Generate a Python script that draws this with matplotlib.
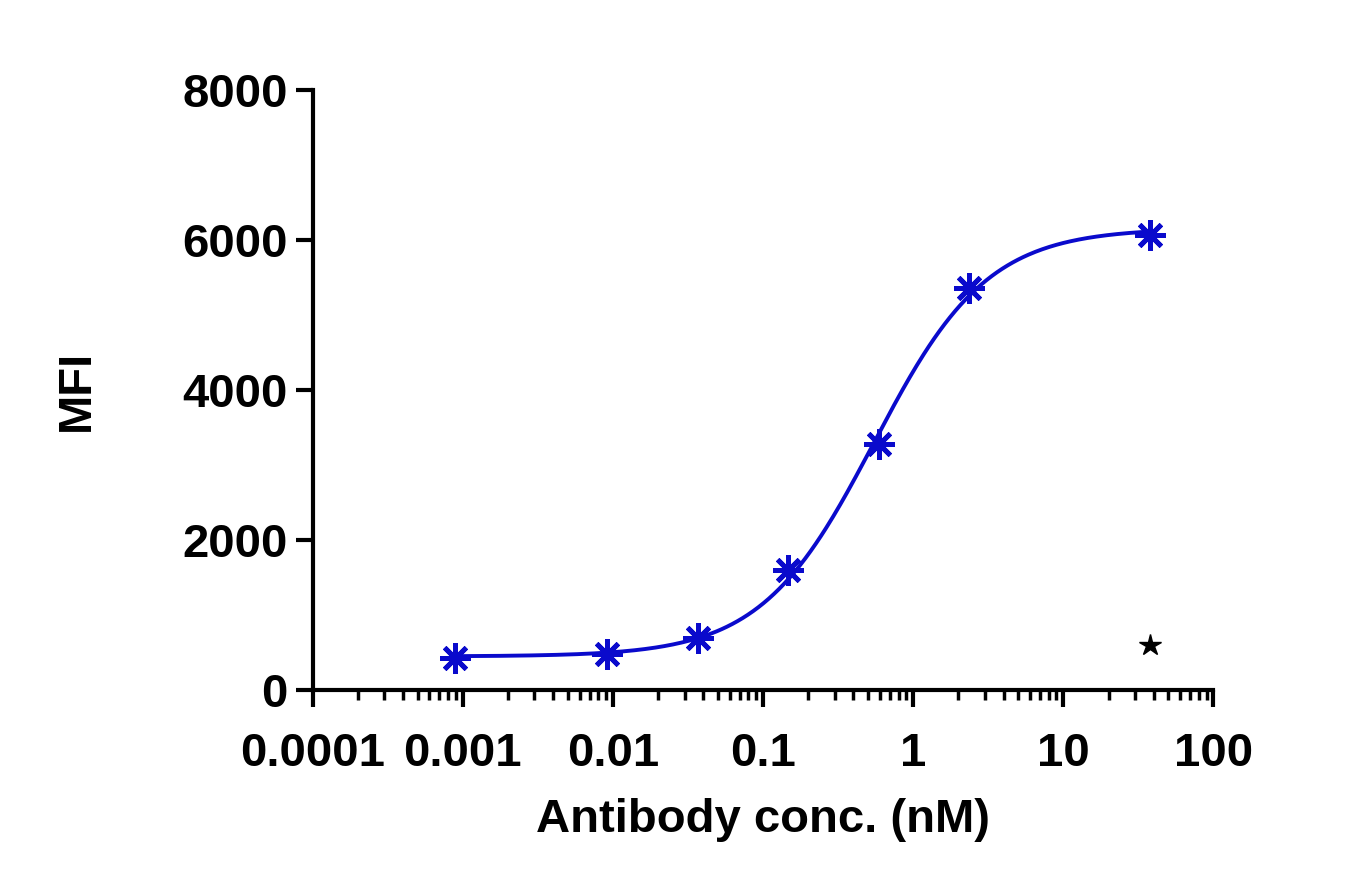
import numpy as np
import matplotlib.pyplot as plt
import matplotlib.ticker as ticker

plt.rcParams['font.family'] = ['Liberation Sans', 'DejaVu Sans']
plt.rcParams['font.weight'] = 'bold'

conc = [0.00089, 0.0091, 0.037, 0.147, 0.59, 2.34, 38.0]
mfi = [430, 480, 690, 1600, 3280, 5370, 6070]
blank_conc = [38.0]
blank_mfi = [600]

# 4PL fit by coarse grid search
lx = np.log10(conc)
y = np.array(mfi)
best = None
for bot in np.linspace(350, 550, 21):
    for top in np.linspace(5800, 6600, 41):
        for lec in np.linspace(-0.6, 0.0, 31):
            for h in np.linspace(0.8, 1.6, 33):
                f = bot + (top - bot) / (1 + 10 ** ((lec - lx) * h))
                e = np.sum((f - y) ** 2)
                if best is None or e < best[0]:
                    best = (e, bot, top, lec, h)
_, bot, top, lec, h = best
xs = np.logspace(np.log10(conc[0]), np.log10(conc[-1]), 400)
ys = bot + (top - bot) / (1 + 10 ** ((lec - np.log10(xs)) * h))

fig = plt.figure(figsize=(13.65, 8.94), dpi=100)
ax = fig.add_axes([0.229, 0.228, 0.66, 0.671])
blue = '#0A0ACC'
ax.plot(xs, ys, color=blue, lw=2.8)
ax.plot(conc, mfi, ls='none', marker=(8, 2, 0), ms=22, mew=3.5, color=blue)
ax.plot(blank_conc, blank_mfi, ls='none', marker='*', ms=16, color='black')

ax.set_xscale('log')
ax.set_xlim(1e-4, 100)
ax.set_ylim(0, 8000)
ax.set_yticks([0, 2000, 4000, 6000, 8000])
ax.xaxis.set_major_locator(ticker.FixedLocator([1e-4, 1e-3, 1e-2, 1e-1, 1, 10, 100]))
ax.xaxis.set_major_formatter(ticker.FixedFormatter(['0.0001', '0.001', '0.01', '0.1', '1', '10', '100']))
ax.xaxis.set_minor_locator(ticker.LogLocator(subs=np.arange(2, 10), numticks=20))
ax.xaxis.set_minor_formatter(ticker.NullFormatter())
for s in ['top', 'right']:
    ax.spines[s].set_visible(False)
for s in ['left', 'bottom']:
    ax.spines[s].set_linewidth(3)
ax.tick_params(axis='both', which='major', labelsize=34, width=3, length=12, direction='out')
ax.tick_params(axis='x', which='major', pad=18)
ax.tick_params(axis='y', which='major', pad=6)
ax.tick_params(axis='x', which='minor', width=2.5, length=7, direction='out')
ax.set_xlabel('Antibody conc. (nM)', fontsize=34, fontweight='bold', labelpad=16)
ax.set_ylabel('MFI', fontsize=34, fontweight='bold', labelpad=60)
fig.savefig('out.png', dpi=100)
